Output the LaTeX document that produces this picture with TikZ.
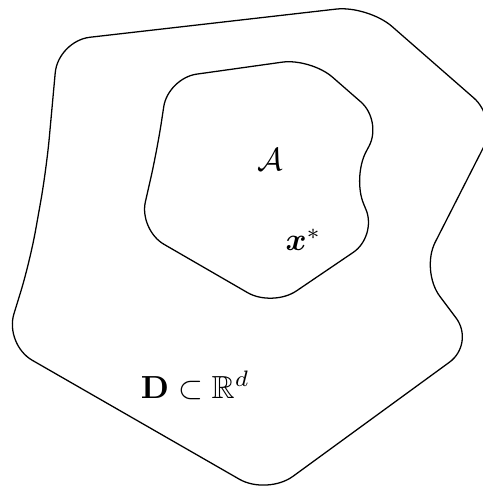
\documentclass[tikz,border=0pt]{standalone}
\usepackage{amsmath,amssymb,bm}

\begin{document}
\begin{tikzpicture}[x=1cm,y=1cm]
\tikzset{
  regionline/.style={draw=black,line width=0.4pt,line join=round,rounded corners=10pt},
  setlabel/.style={inner sep=1pt,font=\normalsize}
}
\useasboundingbox (0,0) rectangle (5.31,5.36);
% outer domain
\draw[regionline] (0.64,4.91) -- (4.05,5.30) -- (5.48,4.05) -- (4.63,2.38) -- (5.23,1.58)
  -- (2.94,-0.09) -- (0.05,1.57) -- (0.33,2.48) -- (0.51,3.49) -- cycle;
% inner set
\draw[regionline,rounded corners=9pt] (1.85,4.50) -- (3.42,4.72) -- (4.21,4.03) -- (3.88,3.41) -- (4.15,2.76)
  -- (3.00,1.98) -- (1.53,2.83) -- (1.73,3.71) -- cycle;
\node[setlabel] (l_A) at (2.97,3.60) {$\mathcal{A}$};
\node[setlabel] (l_x) at (3.34,2.72) {$\bm{x}^*$};
\node[setlabel] (l_D) at (2.15,1.12) {$\mathbf{D}\subset\mathbb{R}^d$};
\end{tikzpicture}
\end{document}
